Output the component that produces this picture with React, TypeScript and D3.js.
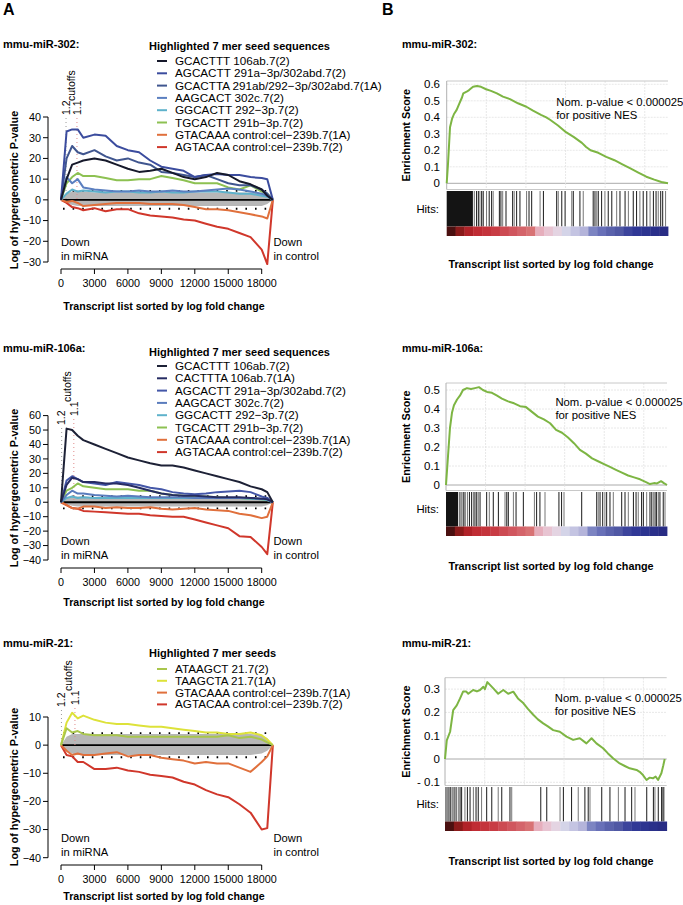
import React from 'react';
import * as d3 from 'd3';

const FONT = '"Liberation Sans", Arial, Helvetica, sans-serif';
const MINUS = '\u2212';

// ---------------- Panel A: shared ----------------
const transcriptPos = [0, 500, 1000, 1500, 2000, 3000, 4000, 5000, 6000, 7000, 8000, 9000, 10000, 11000, 12000, 13000, 14000, 15000, 16000, 17000, 18000, 18500, 19000];
const xTickValues = [0, 3000, 6000, 9000, 12000, 15000, 18000];
const thresholdValues = [4.3, -4.3];

// ---------------- miR-302 ----------------
const mir302Labels = [
  'GCACTTT 106ab.7(2)',
  'AGCACTT 291a\u22123p/302abd.7(2)',
  'GCACTTA 291ab/292\u22123p/302abd.7(1A)',
  'AAGCACT 302c.7(2)',
  'GGCACTT 292\u22123p.7(2)',
  'TGCACTT 291b\u22123p.7(2)',
  'GTACAAA control:cel\u2212239b.7(1A)',
  'AGTACAA control:cel\u2212239b.7(2)',
];
const mir302Colors = ['#16192b', '#3b4c9e', '#40568f', '#5b7fc0', '#5eb2cb', '#8dc152', '#e0703c', '#d0372b'];
const mir302_GCACTTT = [0, 10, 17, 18, 19, 20, 19, 17, 15, 13.5, 14, 15, 13, 11, 10, 11, 13, 12, 9, 7.5, 5, 2, 0];
const mir302_AGCACTT = [0, 33, 34, 34, 30, 31.5, 31, 26, 24, 23, 19, 16, 15, 14, 11, 12, 12.5, 12, 12, 11, 10.5, 10, 0];
const mir302_GCACTTA = [0, 20, 26, 23, 22, 24, 21, 19, 20, 18, 17, 13.5, 13, 12, 11, 12, 10, 8, 7, 7, 5, 3, 0];
const mir302_AAGCACT = [0, 11, 8, 10, 6, 5, 4.5, 4, 4, 4.5, 4, 4, 4.5, 4, 4, 4.5, 5, 5.5, 5, 4, 3, 2, 0];
const mir302_GGCACTT = [0, 3, 5, 4, 4.5, 4, 3.5, 4, 4, 3.5, 3.5, 4, 3.5, 3.5, 4, 4, 4, 3.5, 3, 3, 2, 1.5, 0];
const mir302_TGCACTT = [0, 8, 11, 13, 11.5, 11.5, 10.5, 9.5, 9.5, 10, 10, 11.5, 10.5, 9.5, 8, 8, 8, 6, 5, 7, 4, 3, 0];
const mir302_GTACAAA = [0, -1, -0.5, -1.5, -3, -2.5, -2, -1.5, -1.5, -1.5, -2, -2, -2, -2.5, -3.5, -4.5, -4.5, -5, -6, -7, -8, -9, 0];
const mir302_AGTACAA = [0, -1.5, -3.5, -4, -5, -4, -5.5, -4.5, -4.5, -6.5, -7.5, -8, -8.5, -9.5, -10, -11.5, -13, -14, -16, -18, -24, -31, 0];
const mir302_greyUpper = [0, 3, 4, 4, 4, 3.5, 3.5, 3.5, 3.5, 3.5, 3.5, 3.5, 3.5, 3.5, 3.5, 3.5, 3.5, 3.5, 3.5, 3.5, 3, 2.5, 0];
const mir302_greyLower = [0, -1.5, -2.5, -3, -3, -3, -3, -3, -3, -3, -3, -3, -3, -3, -3, -3, -3, -3, -3, -3, -3, -2, 0];
const mir302_yTicks = [-30, -20, -10, 0, 10, 20, 30, 40];
const mir302_cutoffs = [450, 1430];

// ---------------- miR-106a ----------------
const mir106Labels = [
  'GCACTTT 106ab.7(2)',
  'CACTTTA 106ab.7(1A)',
  'AGCACTT 291a\u22123p/302abd.7(2)',
  'AAGCACT 302c.7(2)',
  'GGCACTT 292\u22123p.7(2)',
  'TGCACTT 291b\u22123p.7(2)',
  'GTACAAA control:cel\u2212239b.7(1A)',
  'AGTACAA control:cel\u2212239b.7(2)',
];
const mir106Colors = ['#1d2136', '#262c63', '#4457a8', '#5a7cbd', '#5eb2cb', '#8dc152', '#e0703c', '#d0372b'];
const mir106_GCACTTT = [0, 51, 50, 46, 43, 40, 37, 34, 31, 29, 27, 25.5, 25.5, 24, 22, 20, 18, 16, 14, 11, 9, 7, 0];
const mir106_CACTTTA = [0, 12, 17, 16, 14, 14, 13, 13, 12, 10, 8, 6, 5, 4.5, 4.5, 4, 3.5, 3.5, 3.5, 3, 2.5, 2, 0];
const mir106_AGCACTT = [0, 15, 18, 16, 14, 13, 12, 14, 13, 12, 10, 9, 7, 6, 5.5, 6, 7, 7.5, 8, 7, 4, 3, 0];
const mir106_AAGCACT = [0, 5, 8, 6, 6, 5, 4.5, 4, 4.5, 4, 3.5, 3.5, 3.5, 3.5, 3, 3, 3, 3, 3, 3, 2.5, 2, 0];
const mir106_GGCACTT = [0, 3, 4, 3, 3.5, 3, 3, 3, 3, 3, 3, 3, 3, 3, 3, 3, 3, 3, 3, 2.5, 2, 1.5, 0];
const mir106_TGCACTT = [0, 8, 10, 13, 11, 10, 9, 9, 9, 8, 8, 6, 5, 4.5, 4, 4, 3.5, 3, 3, 2.5, 2, 1.5, 0];
const mir106_GTACAAA = [0, -2, -4, -4.5, -3, -3, -4, -3.5, -4, -4, -3.5, -4.5, -5, -4.5, -4, -5, -5.5, -6, -8, -9, -11, -10, 0];
const mir106_AGTACAA = [0, -2, -4, -4.5, -6, -6.5, -7, -7.5, -8, -8, -9, -9.5, -10, -10, -12, -14, -16, -18, -23.5, -24, -31, -36, 0];
const mir106_greyUpper = [0, 3, 4, 4, 4, 3.5, 3.5, 3.5, 3.5, 3.5, 3.5, 3.5, 3.5, 3.5, 3.5, 3.5, 3.5, 3.5, 3.5, 3.5, 3, 2.5, 0];
const mir106_greyLower = [0, -1.5, -2.5, -3, -3, -3, -3, -3, -3, -3, -3, -3, -3, -3, -3, -3, -3, -3, -3, -3, -3, -2, 0];
const mir106_yTicks = [-40, -30, -20, -10, 0, 10, 20, 30, 40, 50, 60];
const mir106_cutoffs = [60, 1150];

// ---------------- miR-21 ----------------
const mir21Labels = [
  'ATAAGCT 21.7(2)',
  'TAAGCTA 21.7(1A)',
  'GTACAAA control:cel\u2212239b.7(1A)',
  'AGTACAA control:cel\u2212239b.7(2)',
];
const mir21Colors = ['#a9c64c', '#dde23a', '#e0703c', '#d0372b'];
const mir21_ATAAGCT = [0, 6, 4.5, 5, 4, 3.5, 3.5, 3.5, 3, 3, 3, 3, 3, 3, 3, 3, 3, 3.5, 2.5, 3, 2, 1, 0];
const mir21_TAAGCTA = [0, 8, 11.5, 9.5, 10.5, 9, 8, 7.5, 7.5, 7, 6.5, 6.5, 6, 5.5, 5, 4.5, 4.5, 4, 4, 4.5, 3.5, 2, 0];
const mir21_GTACAAA = [0, -2, -3.5, -3, -3.5, -3.5, -3, -2.5, -4, -3.5, -3.5, -4.5, -5, -5.5, -6.5, -6, -6.5, -6.5, -8, -9.5, -6, -4, 0];
const mir21_AGTACAA = [0, -3.5, -4, -6, -6, -8.5, -8.5, -8, -9, -9.5, -10.5, -11, -11.5, -13, -14, -16, -17.5, -18.5, -21, -24, -30, -29.5, 0];
const mir21_greyUpper = [0, 3, 4, 4, 4, 4, 4, 4, 4, 4, 4, 4, 4, 4, 4, 4, 4, 4, 4, 4, 3.5, 2.5, 0];
const mir21_greyLower = [0, -2, -3, -3.5, -3.5, -3.5, -3.5, -3.5, -3.5, -3.5, -3.5, -3.5, -3.5, -3.5, -3.5, -3.5, -3.5, -3.5, -3.5, -3.5, -3, -2, 0];
const mir21_yTicks = [-40, -30, -20, -10, 0, 10];
const mir21_cutoffs = [40, 1250];

// ---------------- Panel B: GSEA ----------------
const gseaGridPct = [17.9, 35.8, 53.7, 71.6, 89.5];
const colorBlocks = ['#4a1010', '#8a1a1a', '#b02228', '#c02c34', '#c4343c', '#c83c44', '#cc4a52', '#d0565e', '#d4646a', '#d87274',
  '#e6aebc', '#e8c4d2', '#e4d4e2', '#d4d4e8', '#c4c4e2', '#b4b4da', '#7c84c2', '#6870b8', '#5a62ac', '#5058a4',
  '#3c449c', '#303896', '#2c3490', '#2a308a', '#282c84'];

const es302Pos = [0, 0.6, 1.5, 2.4, 3.3, 4.5, 5.6, 6.9, 7.5, 9, 10.1, 11.9, 13.7, 15.5, 17.8, 20, 22.7, 25.4, 28.6, 32.2, 36, 39, 42.6, 45, 46.7, 50.3, 53.9, 57.5, 61.1, 63, 65, 68.5, 72.1, 75.8, 79.4, 83, 86.6, 90.2, 93.8, 97, 100];
const es302Val = [0, 0.12, 0.34, 0.39, 0.42, 0.445, 0.48, 0.52, 0.545, 0.555, 0.565, 0.585, 0.59, 0.585, 0.57, 0.56, 0.545, 0.525, 0.51, 0.485, 0.464, 0.44, 0.415, 0.4, 0.385, 0.35, 0.31, 0.28, 0.245, 0.22, 0.2, 0.185, 0.16, 0.14, 0.115, 0.09, 0.065, 0.04, 0.022, 0.008, 0];
const hits302 = [11.7, 12.5, 13.5, 14.3, 15, 15.8, 16.5, 18, 19.2, 20.3, 21, 23.8, 24.5, 25.3, 26.8, 29.8, 30.5, 31.6, 33.1, 36.1, 37.2, 38.4, 42.2, 43.7, 49.7, 50.4, 52, 53.5, 56.5, 57.2, 60.2, 61.7, 66.2, 67, 67.8, 68.5, 70, 71.5, 73, 74.6, 76.8, 78.3, 80.6, 82.1, 84.3, 85.8, 87.3, 88.8, 90.4, 91.9, 93.4, 94.6, 95.6, 96.7, 97.6, 98.9];
const dense302 = 11.5;

const es106Pos = [0, 0.9, 1.8, 2.7, 3.6, 5, 6.3, 7.7, 9.5, 11.3, 13.1, 14.9, 16.7, 18.6, 20.8, 23.1, 25.3, 28.1, 30.8, 33.5, 36.2, 38.9, 41.6, 44.3, 47.1, 49.8, 52.5, 55.2, 57.9, 60.6, 63.3, 66.1, 68.8, 71.5, 74.2, 76.9, 79.6, 82.4, 85.1, 87.8, 90.5, 92.3, 94.1, 95.5, 97.3, 98.6, 100];
const es106Val = [0, 0.15, 0.3, 0.38, 0.42, 0.45, 0.47, 0.5, 0.51, 0.505, 0.51, 0.515, 0.5, 0.49, 0.485, 0.47, 0.455, 0.44, 0.43, 0.415, 0.41, 0.385, 0.36, 0.345, 0.325, 0.29, 0.275, 0.25, 0.22, 0.185, 0.165, 0.14, 0.125, 0.11, 0.095, 0.08, 0.065, 0.05, 0.04, 0.03, 0.015, 0.005, 0.01, 0.008, 0.02, 0.01, 0];
const hits106 = [6.3, 7.1, 7.8, 8.6, 9.7, 10.6, 11.6, 12.4, 13.1, 13.9, 14.6, 15.4, 18.4, 19.6, 21.4, 23.7, 26.7, 27.5, 28.2, 30.5, 31.7, 35, 40, 41, 42.5, 44.8, 51.1, 52.3, 53.4, 61.4, 68.2, 68.9, 69.7, 70.9, 71.9, 72.7, 74.2, 75.7, 79.5, 81, 82.5, 84.8, 86, 87, 88.5, 89.3, 90.8, 92.3, 93.1, 93.8, 94.6, 95.3, 96.1, 96.8, 98.3, 99.1];
const dense106 = 5.5;

const es21Pos = [0, 0.8, 2.3, 3.7, 5.3, 6.8, 8.2, 9.5, 10.5, 12.7, 14.4, 15.8, 17.3, 18, 19.1, 21.8, 24, 26.3, 28.5, 30.8, 32.9, 35.3, 37.4, 39.8, 41.9, 44.3, 46.4, 48.8, 51.8, 54.8, 57.8, 60.8, 63.8, 66.1, 68.3, 71.3, 73.4, 75.8, 78.8, 81.1, 83.3, 86.4, 87.8, 89.3, 90.9, 92.3, 93.8, 95, 96.1, 97.6, 98.4, 99.1];
const es21Val = [0, 0.08, 0.117, 0.21, 0.23, 0.26, 0.29, 0.29, 0.28, 0.296, 0.29, 0.296, 0.31, 0.3, 0.33, 0.303, 0.28, 0.296, 0.28, 0.289, 0.26, 0.24, 0.215, 0.19, 0.17, 0.153, 0.14, 0.124, 0.117, 0.096, 0.082, 0.089, 0.067, 0.089, 0.067, 0.046, 0.025, 0.003, -0.019, -0.03, -0.04, -0.047, -0.055, -0.069, -0.09, -0.08, -0.083, -0.075, -0.09, -0.061, -0.03, 0];
const hits21 = [0.45, 1.2, 1.8, 2.6, 3.3, 4.1, 5, 6, 6.8, 7.5, 9, 10.1, 11.3, 12.8, 14, 15, 16.5, 18.8, 21.1, 24, 25.6, 29.3, 30.1, 43.2, 45.9, 51.9, 53.4, 57.1, 60.1, 63.1, 64.6, 65.4, 70.7, 74.4, 78.2, 81.2, 84.2, 85.7, 91, 94, 94.7, 96.2, 97.7, 98.1, 98.7];
const dense21 = 0;

const es302Ticks = [0, 0.1, 0.2, 0.3, 0.4, 0.5, 0.6];
const es106Ticks = [0, 0.1, 0.2, 0.3, 0.4, 0.5];
const es21Ticks = [-0.1, 0, 0.1, 0.2, 0.3];

// ---------------- layout configs ----------------
const leftPanels = [
  {
    title: 'mmu-miR-302:', titleY: 47.5, legendTitle: 'Highlighted 7 mer seed sequences', legendTitleY: 50, legendY0: 61, legendDy: 12.3,
    labels: mir302Labels, colors: mir302Colors,
    series: [mir302_GCACTTT, mir302_AGCACTT, mir302_GCACTTA, mir302_AAGCACT, mir302_GGCACTT, mir302_TGCACTT, mir302_GTACAAA, mir302_AGTACAA],
    greyUpper: mir302_greyUpper, greyLower: mir302_greyLower, yTicks: mir302_yTicks, cutoffs: mir302_cutoffs,
    yTopPx: 117, yBotPx: 262, xAxisY: 269, axisTitleY: 309.5, downY: 246, cutLabelBottom: [115, 115], yTitleY: 190,
  },
  {
    title: 'mmu-miR-106a:', titleY: 352, legendTitle: 'Highlighted 7 mer seed sequences', legendTitleY: 356, legendY0: 366, legendDy: 12.3,
    labels: mir106Labels, colors: mir106Colors,
    series: [mir106_GCACTTT, mir106_CACTTTA, mir106_AGCACTT, mir106_AAGCACT, mir106_GGCACTT, mir106_TGCACTT, mir106_GTACAAA, mir106_AGTACAA],
    greyUpper: mir106_greyUpper, greyLower: mir106_greyLower, yTicks: mir106_yTicks, cutoffs: mir106_cutoffs,
    yTopPx: 415.6, yBotPx: 560, xAxisY: 568, axisTitleY: 605.5, downY: 545, cutLabelBottom: [425, 416], yTitleY: 488,
  },
  {
    title: 'mmu-miR-21:', titleY: 647, legendTitle: 'Highlighted 7 mer seeds', legendTitleY: 657, legendY0: 669, legendDy: 11.8,
    labels: mir21Labels, colors: mir21Colors,
    series: [mir21_ATAAGCT, mir21_TAAGCTA, mir21_GTACAAA, mir21_AGTACAA],
    greyUpper: mir21_greyUpper, greyLower: mir21_greyLower, yTicks: mir21_yTicks, cutoffs: mir21_cutoffs,
    yTopPx: 717, yBotPx: 857.7, xAxisY: 865, axisTitleY: 899.5, downY: 842, cutLabelBottom: [707, 705], yTitleY: 787,
  },
];

const rightPanels = [
  {
    title: 'mmu-miR-302:', titleY: 47.5, left: 446.7, right: 668, esTop: 81, zeroPx: 183.3, px01: 16.5, esBottom: 189.5,
    hitsTop: 191, hitsBottom: 226.5, barBottom: 236, axisTitleY: 268, pTextY: 106,
    pos: es302Pos, val: es302Val, hits: hits302, dense: dense302, ticks: es302Ticks,
  },
  {
    title: 'mmu-miR-106a:', titleY: 352, left: 446, right: 667, esTop: 383, zeroPx: 485, px01: 19, esBottom: 490.5,
    hitsTop: 492, hitsBottom: 526.5, barBottom: 536, axisTitleY: 570, pTextY: 406,
    pos: es106Pos, val: es106Val, hits: hits106, dense: dense106, ticks: es106Ticks,
  },
  {
    title: 'mmu-miR-21:', titleY: 647, left: 445, right: 666.7, esTop: 677.7, zeroPx: 759, px01: 23.3, esBottom: 785.5,
    hitsTop: 787, hitsBottom: 821.5, barBottom: 831, axisTitleY: 865, pTextY: 702,
    pos: es21Pos, val: es21Val, hits: hits21, dense: dense21, ticks: es21Ticks,
  },
];

function fmtLeft(v: number) {
  return v < 0 ? MINUS + Math.abs(v) : String(v);
}

function LeftPanel({ p }: { p: any }) {
  const x = d3.scaleLinear().domain([0, 18000]).range([61, 261.7]);
  const yMin = p.yTicks[0];
  const yMax = p.yTicks[p.yTicks.length - 1];
  const y = d3.scaleLinear().domain([yMin, yMax]).range([p.yBotPx, p.yTopPx]);
  const line = d3.line<number>().x((_, i) => x(transcriptPos[i])).y((v) => y(v));
  const band = d3.area<number>().x((_, i) => x(transcriptPos[i])).y0((_, i) => y(p.greyLower[i])).y1((v) => y(v));
  const xEnd = x(transcriptPos[transcriptPos.length - 1]);
  const cx = p.cutoffs.map((c: number) => x(c));
  const seriesEls = p.series.map((s: number[], i: number) => (
    <path key={i} d={line(s) || ''} fill="none" stroke={p.colors[i]} strokeWidth={2} strokeLinejoin="round" />
  ));
  return (
    <g>
      <text x={3} y={p.titleY} fontWeight="bold" fontSize={11}>{p.title}</text>
      <text x={149} y={p.legendTitleY} fontWeight="bold" fontSize={11}>{p.legendTitle}</text>
      {p.labels.map((l: string, i: number) => {
        const yy = p.legendY0 + i * p.legendDy;
        return (
          <g key={i}>
            <line x1={157} x2={167} y1={yy} y2={yy} stroke={p.colors[i]} strokeWidth={2} />
            <text x={175} y={yy + 4} fontSize={11.7}>{l}</text>
          </g>
        );
      })}
      {/* grey background band */}
      <path d={band(p.greyUpper) || ''} fill="#b7b7b7" />
      <line x1={x(0)} x2={xEnd} y1={y(0)} y2={y(0)} stroke="#000" strokeWidth={1.8} />
      {thresholdValues.map((t, i) => (
        <line key={i} x1={x(0) + 2} x2={xEnd} y1={y(t)} y2={y(t)} stroke="#000" strokeWidth={1.8} strokeDasharray="1.6 8" />
      ))}
      {/* cutoff lines */}
      <line x1={cx[0]} x2={cx[0]} y1={p.cutLabelBottom[0] + 3} y2={y(0)} stroke="#999" strokeWidth={1} strokeDasharray="1 3" />
      <line x1={cx[1]} x2={cx[1]} y1={p.cutLabelBottom[1] + 3} y2={y(0)} stroke="#e08a8a" strokeWidth={1} strokeDasharray="1 3" />
      <text transform={`translate(${cx[0] + 3.8},${p.cutLabelBottom[0]}) rotate(-90)`} fontSize={10.5}>1.2</text>
      <text transform={`translate(${cx[1] + 3.8},${p.cutLabelBottom[1]}) rotate(-90)`} fontSize={10.5}>1.1</text>
      <text transform={`translate(${(cx[0] + cx[1]) / 2 + 3.5},${p.cutLabelBottom[1] - 14}) rotate(-90)`} fontSize={10.5}>cutoffs</text>
      {seriesEls.slice().reverse()}
      {/* y axis */}
      <line x1={48} x2={48} y1={y(yMin)} y2={y(yMax)} stroke="#000" strokeWidth={1} />
      {p.yTicks.map((t: number) => (
        <g key={t}>
          <line x1={43} x2={48} y1={y(t)} y2={y(t)} stroke="#000" strokeWidth={1} />
          <text x={41} y={y(t) + 3.8} fontSize={10.8} textAnchor="end">{fmtLeft(t)}</text>
        </g>
      ))}
      <text transform={`translate(18,${p.yTitleY}) rotate(-90)`} fontSize={10.8} fontWeight="bold" textAnchor="middle">Log of hypergeometric P-value</text>
      {/* x axis */}
      <line x1={x(0)} x2={x(18000)} y1={p.xAxisY} y2={p.xAxisY} stroke="#000" strokeWidth={1} />
      {xTickValues.map((t) => (
        <g key={t}>
          <line x1={x(t)} x2={x(t)} y1={p.xAxisY} y2={p.xAxisY + 5} stroke="#000" strokeWidth={1} />
          <text x={x(t)} y={p.xAxisY + 17.5} fontSize={10.8} textAnchor="middle">{t}</text>
        </g>
      ))}
      <text x={164} y={p.axisTitleY} fontSize={10.6} fontWeight="bold" textAnchor="middle">Transcript list sorted by log fold change</text>
      <text x={61} y={p.downY} fontSize={11.2}>Down</text>
      <text x={61} y={p.downY + 14} fontSize={11.2}>in miRNA</text>
      <text x={273.5} y={p.downY} fontSize={11.2}>Down</text>
      <text x={273.5} y={p.downY + 14} fontSize={11.2}>in control</text>
    </g>
  );
}

function fmtES(v: number) {
  if (v === 0) return '0';
  if (v < 0) return '- ' + Math.abs(v).toFixed(1);
  return v.toFixed(1);
}

function RightPanel({ p }: { p: any }) {
  const x = d3.scaleLinear().domain([0, 100]).range([p.left, p.right]);
  const y = d3.scaleLinear().domain([0, 0.1]).range([p.zeroPx, p.zeroPx - p.px01]);
  const es = d3.line<number>().x((_, i) => x(p.pos[i])).y((v) => y(v));
  const w = p.right - p.left;
  const bw = w / colorBlocks.length;
  const hitsMid = (p.hitsTop + p.hitsBottom) / 2;
  return (
    <g>
      <text x={402} y={p.titleY} fontWeight="bold" fontSize={10.8}>{p.title}</text>
      {/* grid */}
      {p.ticks.map((t: number) => (
        <line key={'h' + t} x1={p.left} x2={p.right} y1={y(t)} y2={y(t)} stroke={t === 0 ? '#aaaaaa' : '#e2e2e2'} strokeWidth={t === 0 ? 1 : 0.8} strokeDasharray={t === 0 ? undefined : '2 1'} />
      ))}
      {gseaGridPct.map((g) => (
        <line key={'v' + g} x1={x(g)} x2={x(g)} y1={p.esTop} y2={p.esBottom} stroke="#e2e2e2" strokeWidth={0.8} strokeDasharray="2 1" />
      ))}
      <line x1={p.left} x2={p.right} y1={p.esTop} y2={p.esTop} stroke="#c8c8c8" strokeWidth={1} />
      <line x1={p.left} x2={p.right} y1={p.esBottom} y2={p.esBottom} stroke="#c8c8c8" strokeWidth={1} />
      <line x1={p.left} x2={p.left} y1={p.esTop} y2={p.esBottom} stroke="#b0b0b0" strokeWidth={1} />
      {p.ticks.map((t: number) => (
        <text key={'t' + t} x={440} y={y(t) + 4} fontSize={11.5} textAnchor="end">{fmtES(t)}</text>
      ))}
      <path d={es(p.val) || ''} fill="none" stroke="#7db543" strokeWidth={2} strokeLinejoin="round" />
      <text x={x(49.5)} y={p.pTextY} fontSize={11.3}>Nom. p-value &lt; 0.000025</text>
      <text x={x(49.5)} y={p.pTextY + 12.5} fontSize={11.3}>for positive NES</text>
      <text transform={`translate(410,${(p.esTop + p.esBottom) / 2}) rotate(-90)`} fontSize={10.8} fontWeight="bold" textAnchor="middle">Enrichment Score</text>
      {/* hits */}
      {p.dense > 0 && <rect x={p.left} y={p.hitsTop} width={x(p.dense) - p.left} height={p.hitsBottom - p.hitsTop} fill="#141414" />}
      {p.hits.map((h: number, i: number) => (
        <line key={'k' + i} x1={x(h)} x2={x(h)} y1={p.hitsTop} y2={p.hitsBottom} stroke={i % 3 === 1 ? '#777' : '#1a1a1a'} strokeWidth={1} />
      ))}
      <text x={439} y={hitsMid + 4} fontSize={11.3} textAnchor="end">Hits:</text>
      {colorBlocks.map((c, i) => (
        <rect key={'c' + i} x={p.left + i * bw} y={p.hitsBottom} width={bw + 0.4} height={p.barBottom - p.hitsBottom} fill={c} />
      ))}
      <text x={551} y={p.axisTitleY} fontSize={10.8} fontWeight="bold" textAnchor="middle">Transcript list sorted by log fold change</text>
    </g>
  );
}

export default function App() {
  return (
    <svg width={683} height={905} style={{ position: 'absolute', left: 0, top: 0, background: '#fff' }} fontFamily={FONT}>
      <rect x={0} y={0} width={683} height={905} fill="#fff" />
      <text x={3} y={15} fontSize={16} fontWeight="bold">A</text>
      <text x={382} y={15} fontSize={16} fontWeight="bold">B</text>
      {leftPanels.map((p, i) => <LeftPanel key={i} p={p} />)}
      {rightPanels.map((p, i) => <RightPanel key={i} p={p} />)}
    </svg>
  );
}
